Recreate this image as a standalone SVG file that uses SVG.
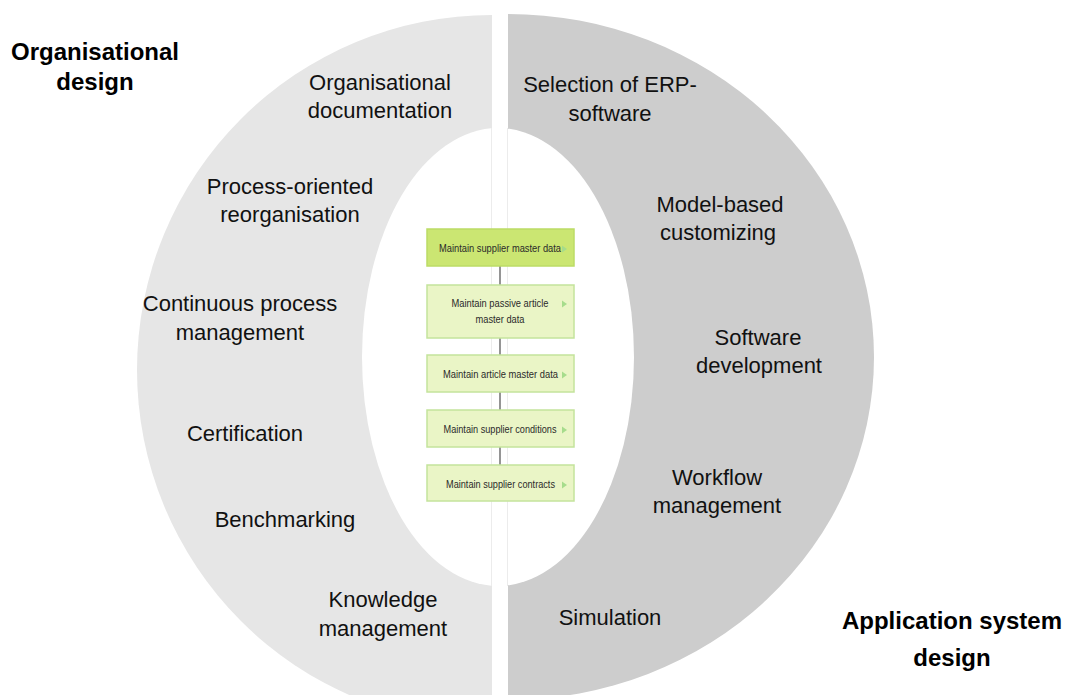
<svg xmlns="http://www.w3.org/2000/svg" width="1065" height="695" viewBox="0 0 1065 695">
<style>
.lbl{font-family:"Liberation Sans",Arial,sans-serif;font-size:22px;fill:#111;text-anchor:middle}
.hd{font-family:"Liberation Sans",Arial,sans-serif;font-size:24px;font-weight:bold;fill:#000;text-anchor:middle}
.bx{fill:#eaf5c6;stroke:#c4e39c;stroke-width:1.5}
.bx1{fill:#cbe672;stroke:#bcdc66;stroke-width:1.5}
.bt{font-family:"Liberation Sans",Arial,sans-serif;font-size:10.5px;fill:#2a2a2a;text-anchor:middle}
.tri{fill:#a6dc8c}
.con{stroke:#7a7a7a;stroke-width:1.6;fill:none}
</style>
<rect width="1065" height="695" fill="#fff"/>
<g id="background">
<path d="M492,15 A355,355 0 0 0 492,725 Z" fill="#e6e6e6"/>
<path d="M508,14 A366,343 0 0 1 508,700 Z" fill="#cdcdcd"/>
<ellipse cx="498" cy="357" rx="136" ry="229" fill="#fff"/>
<line x1="491.5" y1="128" x2="491.5" y2="586" stroke="#ececec" stroke-width="1"/>
<line x1="507.5" y1="128" x2="507.5" y2="586" stroke="#ececec" stroke-width="1"/>
</g>
<g id="headings">
<text class="hd" x="95" y="60">Organisational</text>
<text class="hd" x="95" y="90">design</text>
<text class="hd" x="952" y="629">Application system</text>
<text class="hd" x="952" y="666">design</text>
</g>
<g id="organisational-items">
<text class="lbl" x="380" y="90">Organisational</text>
<text class="lbl" x="380" y="118">documentation</text>
<text class="lbl" x="290" y="194">Process-oriented</text>
<text class="lbl" x="290" y="222">reorganisation</text>
<text class="lbl" x="240" y="311">Continuous process</text>
<text class="lbl" x="240" y="340">management</text>
<text class="lbl" x="245" y="441">Certification</text>
<text class="lbl" x="285" y="527">Benchmarking</text>
<text class="lbl" x="383" y="607">Knowledge</text>
<text class="lbl" x="383" y="636">management</text>
</g>
<g id="application-items">
<text class="lbl" x="610" y="92">Selection of ERP-</text>
<text class="lbl" x="610" y="121">software</text>
<text class="lbl" x="720" y="212">Model-based</text>
<text class="lbl" x="718" y="240">customizing</text>
<text class="lbl" x="758" y="345">Software</text>
<text class="lbl" x="759" y="373">development</text>
<text class="lbl" x="717" y="485">Workflow</text>
<text class="lbl" x="717" y="513">management</text>
<text class="lbl" x="610" y="625">Simulation</text>
</g>
<g id="connectors">
<line class="con" x1="500" y1="266" x2="500" y2="285"/>
<line class="con" x1="500" y1="338" x2="500" y2="355"/>
<line class="con" x1="500" y1="392" x2="500" y2="410"/>
<line class="con" x1="500" y1="447" x2="500" y2="465"/>
</g>
<g id="box1">
<rect class="bx1" x="427" y="229" width="147" height="37"/>
<text class="bt" x="500" y="252" textLength="122" lengthAdjust="spacingAndGlyphs">Maintain supplier master data</text>
<polygon class="tri" points="562,245.5 567,249 562,252.5"/>
</g>
<g id="box2">
<rect class="bx" x="427" y="285" width="147" height="53"/>
<text class="bt" x="500" y="307" textLength="97" lengthAdjust="spacingAndGlyphs">Maintain passive article</text>
<text class="bt" x="500" y="323" textLength="49" lengthAdjust="spacingAndGlyphs">master data</text>
<polygon class="tri" points="562,300.5 567,304 562,307.5"/>
</g>
<g id="box3">
<rect class="bx" x="427" y="355" width="147" height="37"/>
<text class="bt" x="500.5" y="378" textLength="115" lengthAdjust="spacingAndGlyphs">Maintain article master data</text>
<polygon class="tri" points="562,371.5 567,375 562,378.5"/>
</g>
<g id="box4">
<rect class="bx" x="427" y="410" width="147" height="37"/>
<text class="bt" x="500" y="433" textLength="113" lengthAdjust="spacingAndGlyphs">Maintain supplier conditions</text>
<polygon class="tri" points="562,426.5 567,430 562,433.5"/>
</g>
<g id="box5">
<rect class="bx" x="427" y="465" width="147" height="36"/>
<text class="bt" x="500.5" y="488" textLength="109" lengthAdjust="spacingAndGlyphs">Maintain supplier contracts</text>
<polygon class="tri" points="562,481.5 567,485 562,488.5"/>
</g>
</svg>
